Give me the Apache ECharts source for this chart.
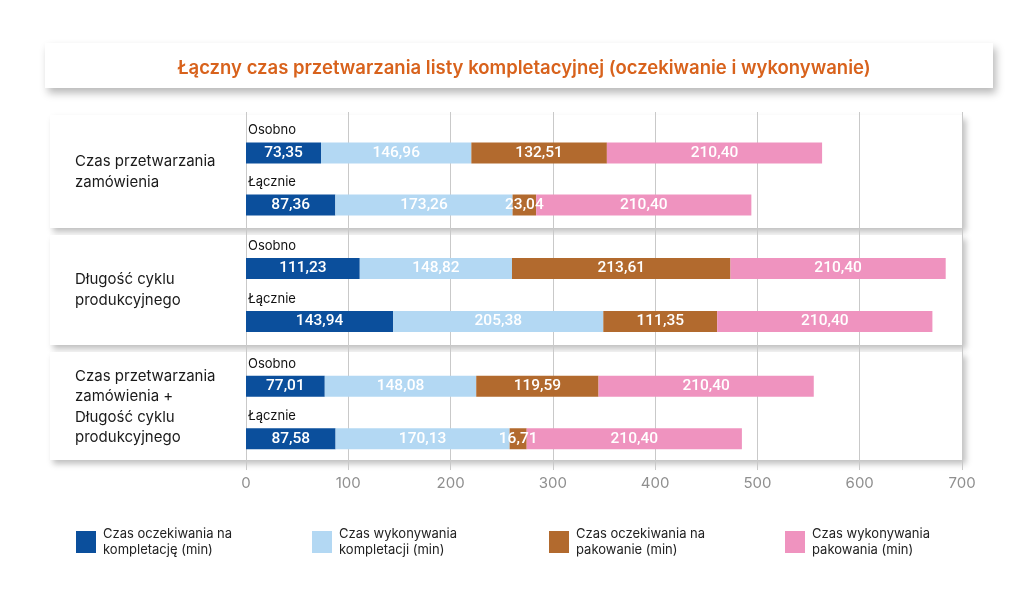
<!DOCTYPE html>
<html><head><meta charset="utf-8">
<script src="https://cdn.jsdelivr.net/npm/echarts@6/dist/echarts.min.js"></script>
<style>html,body{margin:0;padding:0;background:#fff}#c{width:1024px;height:594px}</style>
</head><body><div id="c"></div>
<script>
const titleText = 'Łączny czas przetwarzania listy kompletacyjnej (oczekiwanie i wykonywanie)';
const groups = ['Czas przetwarzania\nzamówienia', 'Długość cyklu\nprodukcyjnego', 'Czas przetwarzania\nzamówienia +\nDługość cyklu\nprodukcyjnego'];
const rowLabels = ['Osobno', 'Łącznie'];
const seriesNames = ['Czas oczekiwania na kompletację (min)', 'Czas wykonywania kompletacji (min)', 'Czas oczekiwania na pakowanie (min)', 'Czas wykonywania pakowania (min)'];
const legendText = ['Czas oczekiwania na\nkompletację (min)', 'Czas wykonywania\nkompletacji (min)', 'Czas oczekiwania na\npakowanie (min)', 'Czas wykonywania\npakowania (min)'];
const waitPick = [73.35, 87.36, 111.23, 143.94, 77.01, 87.58];
const execPick = [146.96, 173.26, 148.82, 205.38, 148.08, 170.13];
const waitPack = [132.51, 23.04, 213.61, 111.35, 119.59, 16.71];
const execPack = [210.40, 210.40, 210.40, 210.40, 210.40, 210.40];
const xTicks = {min: 0, max: 700, interval: 100};

const colors = ['#0b4f9c', '#b3d8f3', '#b26a2e', '#ef93bf'];
const values = [waitPick, execPick, waitPack, execPack];
const FONT = 'Inter, "Noto Sans", sans-serif';

// layout
const gridBoxes = [{top: 127, height: 104}, {top: 242, height: 106}, {top: 360, height: 105}];
const panels = [{y: 115, h: 113}, {y: 235, h: 110}, {y: 352, h: 108}];
const groupCenters = [172, 290, 407];
const legendLefts = [76, 312, 549, 785];

const chart = echarts.init(document.getElementById('c'), null, {renderer: 'canvas'});
const grids = [], xAxes = [], yAxes = [], series = [];
gridBoxes.forEach((g, gi) => {
  grids.push({left: 246, right: 62, top: g.top, height: g.height});
  xAxes.push({type: 'value', gridIndex: gi, min: xTicks.min, max: xTicks.max, interval: xTicks.interval, show: false, splitLine: {show: false}});
  yAxes.push({type: 'category', gridIndex: gi, inverse: true, data: rowLabels,
    axisLine: {show: false}, axisTick: {show: false},
    axisLabel: {inside: true, margin: 2, verticalAlign: 'bottom', padding: [0, 0, 16, 0], color: '#111', fontSize: 13, fontFamily: FONT}});
  values.forEach((arr, si) => {
    series.push({
      type: 'bar', name: seriesNames[si], xAxisIndex: gi, yAxisIndex: gi, stack: 'g' + gi,
      barWidth: 21, itemStyle: {color: colors[si]},
      label: {show: true, position: 'inside', color: '#fff', fontSize: 15.5, fontWeight: 500, fontFamily: 'Roboto, sans-serif',
        formatter: p => p.value.toFixed(2).replace('.', ',')},
      data: arr.slice(gi * 2, gi * 2 + 2)
    });
  });
});
// background grid for gridlines and axis labels
grids.push({left: 246, right: 62, top: 112, bottom: 594 - 470});
xAxes.push({type: 'value', gridIndex: 3, min: xTicks.min, max: xTicks.max, interval: xTicks.interval,
  axisLine: {show: false}, axisTick: {show: false},
  axisLabel: {color: '#8f8f8f', fontSize: 15, margin: 6, fontFamily: FONT},
  splitLine: {show: true, lineStyle: {color: '#c9c9c9', width: 1}}});
yAxes.push({type: 'value', gridIndex: 3, show: false, splitLine: {show: false}});

const graphics = [];
graphics.push({type: 'rect', z: -1, shape: {x: 45, y: 43, width: 948, height: 45},
  style: {fill: '#fff', shadowBlur: 8, shadowOffsetX: 3, shadowOffsetY: 5, shadowColor: 'rgba(0,0,0,0.28)'}});
panels.forEach(p => graphics.push({type: 'rect', z: -1, shape: {x: 50, y: p.y, width: 913, height: p.h},
  style: {fill: '#fff', shadowBlur: 6, shadowOffsetX: 3, shadowOffsetY: 4, shadowColor: 'rgba(0,0,0,0.25)'}}));
groups.forEach((t, i) => graphics.push({type: 'text', z: 5, x: 75, y: groupCenters[i],
  style: {text: t, fill: '#1a1a1a', font: '15px ' + FONT, lineHeight: 20.5, textVerticalAlign: 'middle', textAlign: 'left'}}));

const legends = seriesNames.map((n, i) => ({
  data: [n], left: legendLefts[i], top: 526, padding: 0, itemWidth: 20, itemHeight: 22, icon: 'rect', selectedMode: false,
  formatter: name => legendText[seriesNames.indexOf(name)],
  textStyle: {fontSize: 13, color: '#222', lineHeight: 16, fontFamily: FONT, padding: [0, 0, 0, 2]}
}));

chart.setOption({
  animation: false,
  backgroundColor: '#fff',
  title: {text: titleText, left: 519, top: 54, textAlign: 'center',
    textStyle: {color: '#d8621c', fontSize: 18.5, fontWeight: 600, fontFamily: FONT}},
  graphic: {elements: graphics},
  legend: legends,
  grid: grids, xAxis: xAxes, yAxis: yAxes, series: series
});
</script></body></html>
